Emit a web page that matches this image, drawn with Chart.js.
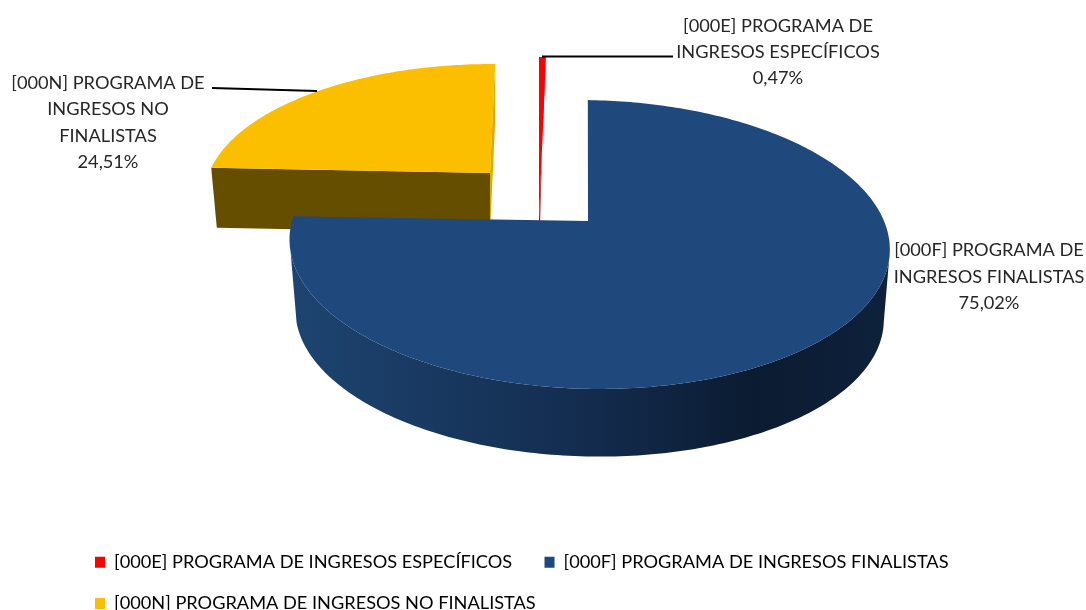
<!DOCTYPE html>
<html><head><meta charset="utf-8">
<style>html,body{margin:0;padding:0;background:#fff;overflow:hidden}#w{width:1086px;height:610px;position:relative}</style>
<script src="https://cdn.jsdelivr.net/npm/chart.js@4"></script>
</head><body><div id="w"><canvas id="c" width="1086" height="610"></canvas></div>
<script>
const categories = ['[000E] PROGRAMA DE INGRESOS ESPECÍFICOS','[000F] PROGRAMA DE INGRESOS FINALISTAS','[000N] PROGRAMA DE INGRESOS NO FINALISTAS'];
const values = [0.47, 75.02, 24.51];
const percentLabels = ['0,47%','75,02%','24,51%'];
const labelLines = [['[000E] PROGRAMA DE','INGRESOS ESPECÍFICOS'],['[000F] PROGRAMA DE','INGRESOS FINALISTAS'],['[000N] PROGRAMA DE','INGRESOS NO','FINALISTAS']];
const colors = ['#ff0000','#1f497d','#fbbf00'];
const FONT = 'Lato';
const FS = 18.2;
const TEXT = '#262626';

// appearance of each exploded slice in the pseudo-3D view
const C = 0.1626;
const looks = [
 {ax:539,ay:220,R:270,a:-153.7,rot:0,sh:0,sx:.6,sy:1,d:45,cutStart:null,cutEnd:'#a80000',wall:false},
 {ax:588,ay:221,R:296,a:-104.7,rot:.2,sh:-10,sx:.98,sy:.98,d:71,cutStart:null,cutEnd:null,wall:true},
 {ax:490,ay:173,R:281,a:-98.6,rot:.6,sh:3,sx:.98,sy:1,d:60,cutStart:'#664e00',cutEnd:'#dcaa00',wall:false}
];
const labelPos = [
 {x:778,ys:[26,52,78],line:[[542,56.5],[673,56.5]]},
 {x:989,ys:[250,277,303],line:null},
 {x:108,ys:[83,109,136,162],line:[[212,88],[317,91]]}
];
function upper(g,th){const t=th+g.rot*Math.PI/180,u=Math.sin(t),v=Math.cos(t),w=1+C*v;
  return [g.ax+(g.R*u+g.sh*v)/w,(g.ay+g.a*v)/w,v];}
function lower(g,p){return [g.ax+(p[0]-g.ax)*g.sx,g.ay+(p[1]-g.ay)*g.sy+g.d];}
function poly(ctx,list,f){ctx.beginPath();list.forEach((p,k)=>k?ctx.lineTo(p[0],p[1]):ctx.moveTo(p[0],p[1]));ctx.closePath();ctx.fillStyle=f;ctx.fill();}

const pie3d = {
 id:'pie3d',
 beforeDatasetDraw(){return false;},
 afterDatasetsDraw(chart){
  const ctx=chart.ctx, arcs=chart.getDatasetMeta(0).data;
  ctx.save();
  [2,0,1].forEach(i=>{
   const g=looks[i], arc=arcs[i];
   const s=arc.startAngle+Math.PI/2, e=arc.endAngle+Math.PI/2, n=Math.max(4,Math.ceil((e-s)*60));
   const pts=[];for(let k=0;k<=n;k++)pts.push(upper(g,s+(e-s)*k/n));
   const apex=[g.ax,g.ay], ab=lower(g,apex);
   if(g.wall){
     const grad=ctx.createLinearGradient(290,0,885,0);
     grad.addColorStop(0,'#1d4470');grad.addColorStop(.17,'#1a3c65');grad.addColorStop(.5,'#132c4e');
     grad.addColorStop(.78,'#0b1b31');grad.addColorStop(1,'#0e213b');
     const front=pts.filter(p=>p[2]<-0.2);
     poly(ctx,front.concat(front.slice().reverse().map(p=>lower(g,p))),grad);
   }
   if(g.cutStart)poly(ctx,[apex,pts[0],lower(g,pts[0]),ab],g.cutStart);
   if(g.cutEnd)poly(ctx,[apex,pts[n],lower(g,pts[n]),ab],g.cutEnd);
   poly(ctx,[apex].concat(pts),colors[i]);
  });
  // data labels and leader lines
  ctx.fillStyle=TEXT;ctx.textAlign='center';ctx.textBaseline='middle';ctx.font=FS+'px '+FONT;
  values.forEach((v,i)=>{
   const p=labelPos[i],lines=labelLines[i].concat([percentLabels[i]]);
   lines.forEach((t,k)=>ctx.fillText(t,p.x,p.ys[k]));
   if(p.line){ctx.beginPath();ctx.moveTo(p.line[0][0],p.line[0][1]);ctx.lineTo(p.line[1][0],p.line[1][1]);
     ctx.strokeStyle='#000';ctx.lineWidth=2;ctx.stroke();}
  });
  ctx.restore();
 }
};
new Chart(document.getElementById('c'),{
 type:'pie',
 data:{labels:categories,datasets:[{data:values,backgroundColor:colors,borderWidth:0}]},
 options:{responsive:false,animation:false,
  layout:{padding:{left:72,right:0,top:0,bottom:-12.5}},
  plugins:{tooltip:{enabled:false},
   legend:{display:true,position:'bottom',align:'start',
    labels:{boxWidth:10,boxHeight:11,padding:23,color:TEXT,font:{family:FONT,size:FS},
     generateLabels(chart){return categories.map((t,i)=>({text:i===0?t+'\u00a0\u00a0':t,fillStyle:colors[i],strokeStyle:colors[i],lineWidth:0,index:i}));}}}}
 },
 plugins:[pie3d]
});
</script></body></html>
